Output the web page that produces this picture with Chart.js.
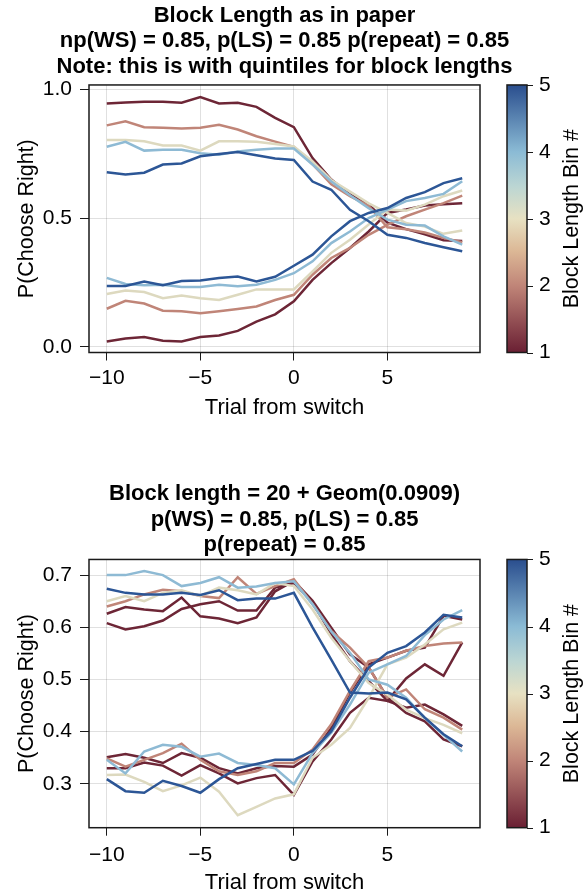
<!DOCTYPE html>
<html>
<head>
<meta charset="utf-8">
<script src="https://cdn.jsdelivr.net/npm/chart.js@4.4.1/dist/chart.umd.min.js"></script>
<style>
  html, body { margin: 0; padding: 0; background: #fff; overflow: hidden; }
  #top-wrap { position: absolute; left: 0; top: 0; }
  #bottom-wrap { position: absolute; left: 0; top: 447px; }
</style>
</head>
<body>
<div id="top-wrap"><canvas id="chart-top" width="585" height="447"></canvas></div>
<div id="bottom-wrap"><canvas id="chart-bottom" width="585" height="460"></canvas></div>
<script>
// trials relative to the switch
const trials = [-10, -9, -8, -7, -6, -5, -4, -3, -2, -1, 0, 1, 2, 3, 4, 5, 6, 7, 8, 9];
const xTicks = [-10, -5, 0, 5];
const topYTicks = [0, 0.5, 1];
const bottomYTicks = [0.3, 0.4, 0.5, 0.6, 0.7];
const binTicks = [1, 2, 3, 4, 5];

// top panel: "Block Length as in paper" (bin 1..5, high side and low side)
const paper1Hi = [0.945, 0.949, 0.952, 0.952, 0.948, 0.970, 0.945, 0.948, 0.932, 0.889, 0.853, 0.733, 0.650, 0.592, 0.553, 0.482, 0.457, 0.437, 0.414, 0.411];
const paper2Hi = [0.860, 0.876, 0.853, 0.851, 0.848, 0.851, 0.862, 0.844, 0.818, 0.797, 0.777, 0.709, 0.631, 0.585, 0.547, 0.464, 0.457, 0.444, 0.423, 0.406];
const paper3Hi = [0.803, 0.803, 0.798, 0.782, 0.782, 0.762, 0.798, 0.798, 0.796, 0.788, 0.778, 0.720, 0.648, 0.603, 0.557, 0.520, 0.481, 0.467, 0.439, 0.452];
const paper4Hi = [0.777, 0.796, 0.762, 0.765, 0.765, 0.752, 0.746, 0.759, 0.765, 0.770, 0.770, 0.708, 0.642, 0.589, 0.538, 0.494, 0.474, 0.471, 0.429, 0.397];
const paper5Hi = [0.678, 0.669, 0.676, 0.708, 0.712, 0.740, 0.749, 0.757, 0.744, 0.731, 0.726, 0.642, 0.610, 0.532, 0.488, 0.435, 0.423, 0.403, 0.387, 0.371];
const paper1Lo = [0.021, 0.032, 0.038, 0.024, 0.021, 0.038, 0.044, 0.062, 0.098, 0.126, 0.177, 0.260, 0.325, 0.384, 0.448, 0.520, 0.533, 0.549, 0.554, 0.558];
const paper2Lo = [0.148, 0.179, 0.168, 0.140, 0.138, 0.130, 0.138, 0.147, 0.157, 0.182, 0.202, 0.280, 0.345, 0.384, 0.435, 0.474, 0.507, 0.533, 0.558, 0.587];
const paper3Lo = [0.205, 0.219, 0.213, 0.189, 0.199, 0.189, 0.182, 0.202, 0.223, 0.223, 0.223, 0.293, 0.365, 0.416, 0.475, 0.533, 0.529, 0.552, 0.585, 0.607];
const paper4Lo = [0.268, 0.244, 0.239, 0.241, 0.232, 0.232, 0.241, 0.235, 0.241, 0.260, 0.286, 0.332, 0.403, 0.448, 0.500, 0.533, 0.566, 0.578, 0.594, 0.643];
const paper5Lo = [0.236, 0.236, 0.254, 0.239, 0.256, 0.258, 0.267, 0.273, 0.254, 0.272, 0.315, 0.358, 0.429, 0.488, 0.520, 0.539, 0.578, 0.601, 0.636, 0.655];

// bottom panel: "Block length = 20 + Geom(0.0909)"
const geom1aHi = [0.626, 0.639, 0.634, 0.631, 0.657, 0.621, 0.617, 0.608, 0.619, 0.669, 0.689, 0.651, 0.599, 0.548, 0.523, 0.465, 0.436, 0.420, 0.385, 0.372];
const geom1bHi = [0.608, 0.596, 0.602, 0.613, 0.635, 0.644, 0.650, 0.632, 0.632, 0.676, 0.685, 0.648, 0.587, 0.535, 0.497, 0.459, 0.446, 0.452, 0.433, 0.411];
const geom2Hi = [0.640, 0.650, 0.663, 0.672, 0.669, 0.660, 0.656, 0.696, 0.664, 0.679, 0.692, 0.644, 0.593, 0.561, 0.523, 0.465, 0.481, 0.443, 0.427, 0.404];
const geom3Hi = [0.650, 0.660, 0.650, 0.666, 0.671, 0.660, 0.676, 0.671, 0.663, 0.685, 0.679, 0.634, 0.580, 0.535, 0.493, 0.471, 0.442, 0.426, 0.413, 0.397];
const geom4Hi = [0.700, 0.700, 0.708, 0.700, 0.679, 0.685, 0.696, 0.676, 0.678, 0.685, 0.688, 0.644, 0.592, 0.551, 0.500, 0.490, 0.465, 0.426, 0.394, 0.362];
const geom5Hi = [0.674, 0.666, 0.663, 0.663, 0.666, 0.662, 0.671, 0.652, 0.655, 0.655, 0.666, 0.600, 0.538, 0.475, 0.473, 0.475, 0.462, 0.427, 0.395, 0.372];
const geom1aLo = [0.351, 0.357, 0.350, 0.340, 0.359, 0.350, 0.330, 0.320, 0.330, 0.334, 0.333, 0.356, 0.407, 0.475, 0.529, 0.542, 0.555, 0.561, 0.622, 0.615];
const geom1bLo = [0.330, 0.330, 0.341, 0.335, 0.316, 0.336, 0.320, 0.301, 0.311, 0.317, 0.279, 0.343, 0.385, 0.436, 0.465, 0.459, 0.502, 0.529, 0.507, 0.571];
const geom2Lo = [0.349, 0.333, 0.346, 0.359, 0.377, 0.346, 0.324, 0.317, 0.324, 0.340, 0.340, 0.366, 0.414, 0.478, 0.535, 0.542, 0.555, 0.564, 0.569, 0.571];
const geom3Lo = [0.317, 0.318, 0.304, 0.286, 0.297, 0.312, 0.285, 0.240, 0.256, 0.272, 0.280, 0.350, 0.375, 0.407, 0.465, 0.529, 0.542, 0.567, 0.596, 0.609];
const geom4Lo = [0.346, 0.320, 0.362, 0.375, 0.371, 0.352, 0.358, 0.340, 0.336, 0.330, 0.299, 0.359, 0.398, 0.452, 0.513, 0.529, 0.545, 0.585, 0.615, 0.633];
const geom5Lo = [0.309, 0.286, 0.283, 0.306, 0.296, 0.283, 0.309, 0.330, 0.338, 0.346, 0.346, 0.363, 0.401, 0.465, 0.523, 0.551, 0.564, 0.590, 0.624, 0.619];

// colours per bin (1 = dark red ... 5 = dark blue)
const binColors = ["#6d2636", "#c08578", "#ddd9bf", "#8ebad4", "#2c5696"];
const gradientStops = [
  [0, "#6a1f33"], [0.25, "#c08578"], [0.38, "#dcb896"], [0.5, "#e7e1c2"],
  [0.62, "#bcd6d3"], [0.75, "#8bbbd5"], [1, "#2a4e8e"]
];

const FONT = "'Liberation Sans', Arial, Helvetica, sans-serif";

function line(data, bin) {
  return {
    data: data,
    borderColor: binColors[bin - 1],
    borderWidth: 2.5,
    pointRadius: 0,
    tension: 0,
    fill: false
  };
}

// box around the plot area + colorbar on the right
const frameAndColorbar = {
  id: "frameAndColorbar",
  afterDatasetsDraw(chart) {
    const { ctx, chartArea } = chart;
    ctx.save();
    ctx.strokeStyle = "#1a1a1a";
    ctx.lineWidth = 1.5;
    ctx.strokeRect(chartArea.left, chartArea.top, chartArea.right - chartArea.left, chartArea.bottom - chartArea.top);
    ctx.restore();
  },
  afterDraw(chart) {
    const { ctx, chartArea } = chart;
    const s = chart.scales.cb;
    const yTop = s.getPixelForValue(5);
    const yBot = s.getPixelForValue(1);
    const x0 = chartArea.right + 27;
    const w = 20;
    ctx.save();
    const g = ctx.createLinearGradient(0, yBot, 0, yTop);
    gradientStops.forEach(([p, c]) => g.addColorStop(p, c));
    ctx.fillStyle = g;
    ctx.fillRect(x0, yTop, w, yBot - yTop);
    ctx.strokeStyle = "#1a1a1a";
    ctx.lineWidth = 1.5;
    ctx.strokeRect(x0, yTop, w, yBot - yTop);
    ctx.lineWidth = 1;
    binTicks.forEach(v => {
      const y = Math.round(s.getPixelForValue(v)) + 0.5;
      ctx.beginPath();
      ctx.moveTo(x0 + w, y);
      ctx.lineTo(x0 + w + 6, y);
      ctx.stroke();
    });
    ctx.translate(572, (yTop + yBot) / 2);
    ctx.rotate(-Math.PI / 2);
    ctx.fillStyle = "#000";
    ctx.font = "21.5px " + FONT;
    ctx.textAlign = "center";
    ctx.textBaseline = "middle";
    ctx.fillText("Block Length Bin #", 0, 0);
    ctx.restore();
  }
};

function makeChart(canvasId, datasets, titleLines, titlePad, yMin, yMax, yTicks, xAxisHeight, xTickPad, xTitlePad) {
  const ctx = document.getElementById(canvasId).getContext("2d");
  return new Chart(ctx, {
    type: "line",
    data: { labels: trials, datasets: datasets },
    options: {
      responsive: false,
      animation: false,
      devicePixelRatio: 1,
      // right padding keeps the full-width title centred over the plot area
      layout: { padding: { left: 0, top: 0, bottom: 0, right: 16 } },
      plugins: {
        legend: { display: false },
        tooltip: { enabled: false },
        title: {
          display: true,
          fullSize: true,
          text: titleLines,
          color: "#000",
          font: { family: FONT, size: 22, weight: "bold", lineHeight: 1.16 },
          padding: titlePad
        }
      },
      scales: {
        x: {
          type: "linear",
          position: "bottom",
          min: -10.95,
          max: 9.95,
          afterBuildTicks: s => { s.ticks = xTicks.map(v => ({ value: v })); },
          afterFit: s => { s.height = xAxisHeight; },
          ticks: {
            color: "#000",
            font: { family: FONT, size: 21 },
            padding: xTickPad,
            maxRotation: 0,
            callback: v => (v < 0 ? "\u2212" + Math.abs(v) : String(v))
          },
          grid: { color: "rgba(0,0,0,0.12)", lineWidth: 1, tickLength: 8, tickColor: "#1a1a1a", tickWidth: 1 },
          border: { display: false },
          title: {
            display: true,
            text: "Trial from switch",
            color: "#000",
            font: { family: FONT, size: 22, lineHeight: 1.2 },
            padding: { top: 0, bottom: xTitlePad }
          }
        },
        y: {
          type: "linear",
          position: "left",
          min: yMin,
          max: yMax,
          afterBuildTicks: s => { s.ticks = yTicks.map(v => ({ value: v })); },
          afterFit: s => { s.width = 89; },
          ticks: {
            color: "#000",
            font: { family: FONT, size: 21 },
            padding: 8,
            callback: v => Number(v).toFixed(1)
          },
          grid: { color: "rgba(0,0,0,0.12)", lineWidth: 1, tickLength: 9, tickColor: "#1a1a1a", tickWidth: 1 },
          border: { display: false },
          title: {
            display: true,
            text: "P(Choose Right)",
            color: "#000",
            font: { family: FONT, size: 21.5, lineHeight: 1.2 },
            padding: { top: 14, bottom: 0 }
          }
        },
        cb: {
          axis: "y",
          type: "linear",
          position: "right",
          min: 1,
          max: 5,
          afterBuildTicks: s => { s.ticks = binTicks.map(v => ({ value: v })); },
          afterFit: s => { s.width = 89; },
          ticks: {
            color: "#000",
            font: { family: FONT, size: 21 },
            padding: 59
          },
          grid: { drawOnChartArea: false, drawTicks: false },
          border: { display: false }
        }
      }
    },
    plugins: [frameAndColorbar]
  });
}

makeChart(
  "chart-top",
  [
    line(paper5Hi, 5), line(paper5Lo, 5),
    line(paper4Hi, 4), line(paper4Lo, 4),
    line(paper3Hi, 3), line(paper3Lo, 3),
    line(paper2Hi, 2), line(paper2Lo, 2),
    line(paper1Hi, 1), line(paper1Lo, 1)
  ],
  ["Block Length as in paper", "np(WS) = 0.85, p(LS) = 0.85 p(repeat) = 0.85", "Note: this is with quintiles for block lengths"],
  { top: 3, bottom: 5.4 },
  -0.022, 1.017, topYTicks,
  94.5, 5, 25.5
);

makeChart(
  "chart-bottom",
  [
    line(geom5Hi, 5), line(geom5Lo, 5),
    line(geom4Hi, 4), line(geom4Lo, 4),
    line(geom3Hi, 3), line(geom3Lo, 3),
    line(geom2Hi, 2), line(geom2Lo, 2),
    line(geom1aHi, 1), line(geom1aLo, 1),
    line(geom1bHi, 1), line(geom1bLo, 1)
  ],
  ["Block length = 20 + Geom(0.0909)", "p(WS) = 0.85, p(LS) = 0.85", "p(repeat) = 0.85"],
  { top: 34.2, bottom: 1.7 },
  0.216, 0.730, bottomYTicks,
  79.3, 6.5, 10.5
);
</script>
</body>
</html>
